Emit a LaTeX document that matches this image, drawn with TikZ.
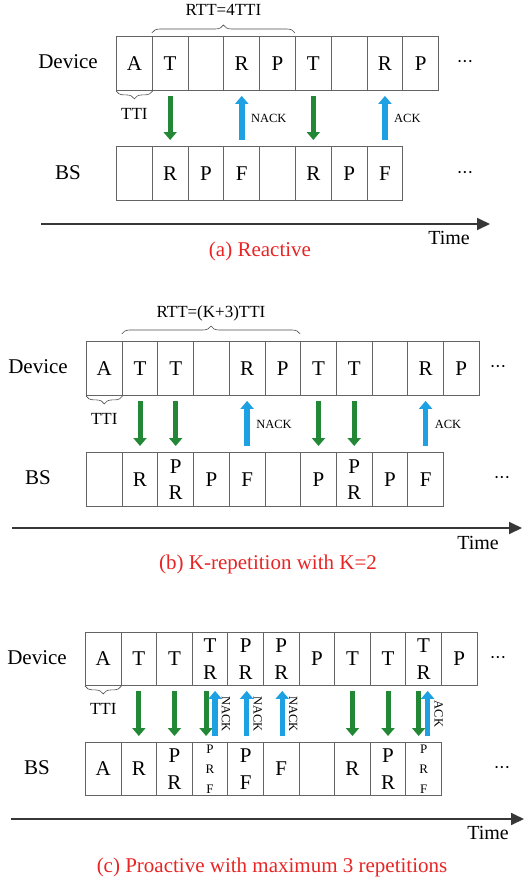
\documentclass[tikz,border=0pt]{standalone}
\usepackage{fontspec}
\setmainfont{Liberation Serif}
\usetikzlibrary{arrows.meta,decorations.pathreplacing}

\definecolor{dngreen}{RGB}{34,136,54}
\definecolor{upblue}{RGB}{29,161,226}
\definecolor{capred}{RGB}{232,36,36}
\definecolor{cellgray}{RGB}{100,100,100}
\definecolor{axgray}{RGB}{55,55,55}

\newcommand{\none}{}
\newcommand{\moredots}{•\kern2.2pt•\kern2.2pt•}
\newcommand{\duo}[2]{\vbox{\halign{\hfil##\hfil\cr #1\cr #2\cr}}}
\newcommand{\trio}[3]{\vbox{\fontsize{13}{20}\selectfont\halign{\hfil##\hfil\cr #1\cr #2\cr #3\cr}}}

\tikzset{
  cell/.style = {draw = cellgray, line width = 0.9pt, minimum width = #1, minimum height = 54pt, inner sep = 0pt, anchor = north west, font = \fontsize{21}{26.5}\selectfont},
  rowlbl/.style = {font = \fontsize{21}{25}\selectfont},
  dotsnode/.style = {font = \fontsize{9}{10}\selectfont, inner sep = 0pt},
  dnarr/.style = {draw = dngreen, line width = 5pt, -{Triangle[width = 13pt, length = 8pt]}, shorten <= 5pt, shorten >= 6pt},
  uparr/.style = {draw = upblue, line width = 5.5pt, -{Triangle[width = 13pt, length = 8pt]}, shorten <= 6pt, shorten >= 5pt},
  acktxt/.style = {font = \fontsize{12.5}{15}\selectfont, inner sep = 0pt},
  ackrot/.style = {font = \fontsize{12.5}{15}\selectfont, inner sep = 4pt, anchor = south, rotate = -90},
  brc/.style = {decorate, decoration = {brace, amplitude = 8pt, raise = #1}, draw = black!70, line width = 0.6pt},
  bracetxt/.style = {font = \fontsize{17}{20}\selectfont, inner sep = 0pt, anchor = base},
  timeax/.style = {draw = axgray, line width = 1.8pt, -{Triangle[width = 12pt, length = 13pt]}},
  timetxt/.style = {font = \fontsize{20}{24}\selectfont},
  captxt/.style = {font = \fontsize{21}{25}\selectfont, text = capred}
}

\begin{document}
\begin{tikzpicture}[x = 1pt, y = -1pt]
\useasboundingbox (0,0) rectangle (524,881);

% (a) reactive
\node[rowlbl] (deva) at (68,62) {Device};
\node[rowlbl] (bsa) at (68,173) {BS};
\foreach \t [count = \i] in {A,T,\none,R,P,T,\none,R,P}
  \node[cell = 35.8pt] (da\i) at ({116+(\i-1)*35.8}, 36) {\t};
\foreach \t [count = \i] in {\none,R,P,F,\none,R,P,F}
  \node[cell = 35.8pt] (ba\i) at ({116+(\i-1)*35.8}, 146) {\t};
\node[dotsnode] (mda) at (465,62) {\moredots};
\node[dotsnode] (mba) at (465,173) {\moredots};
\draw[brc = 3pt] (da2.north west) -- (da6.north west) node[bracetxt, midway, yshift = 20.5pt] (rtta) {RTT=4TTI};
\draw[brc = 0pt] (da1.south east) -- (da1.south west) node[bracetxt, midway, yshift = -28.5pt] (ttia) {TTI};
\draw[dnarr] (da2.south) -- (ba2.north);
\draw[uparr] (ba4.north) -- (da4.south) node[acktxt, midway, right = 6.5pt] (nacka) {NACK};
\draw[dnarr] (da6.south) -- (ba6.north);
\draw[uparr] (ba8.north) -- (da8.south) node[acktxt, midway, right = 6.5pt] (acka) {ACK};
\coordinate (ta0) at (41,224);
\coordinate (ta1) at (490,224);
\draw[timeax] (ta0) -- (ta1);
\node[timetxt] (timea) at (449,238) {Time};
\node[captxt] (capa) at (260,251) {(a) Reactive};

% (b) K-repetition
\node[rowlbl] (devb) at (38,367) {Device};
\node[rowlbl] (bsb) at (38,478) {BS};
\foreach \t [count = \i] in {A,T,T,\none,R,P,T,T,\none,R,P}
  \node[cell = 35.7pt] (db\i) at ({86+(\i-1)*35.7}, 341) {\t};
\foreach \t [count = \i] in {\none,R,\duo{P}{R},P,F,\none,P,\duo{P}{R},P,F}
  \node[cell = 35.7pt] (bb\i) at ({86+(\i-1)*35.7}, 452) {\t};
\node[dotsnode] (mdb) at (498,367) {\moredots};
\node[dotsnode] (mbb) at (502,478) {\moredots};
\draw[brc = 7pt] (db2.north west) -- (db7.north west) node[bracetxt, midway, yshift = 23.5pt] (rttb) {RTT=(K+3)TTI};
\draw[brc = 0pt] (db1.south east) -- (db1.south west) node[bracetxt, midway, yshift = -28.5pt] (ttib) {TTI};
\foreach \i in {2,3,7,8}
  \draw[dnarr] (db\i.south) -- (bb\i.north);
\draw[uparr] (bb5.north) -- (db5.south) node[acktxt, midway, right = 6.5pt] (nackb) {NACK};
\draw[uparr] (bb10.north) -- (db10.south) node[acktxt, midway, right = 6.5pt] (ackb) {ACK};
\coordinate (tb0) at (12,528);
\coordinate (tb1) at (522,528);
\draw[timeax] (tb0) -- (tb1);
\node[timetxt] (timeb) at (478,543) {Time};
\node[captxt] (capb) at (268,564) {(b) K-repetition with K=2};

% (c) proactive
\node[rowlbl] (devc) at (37,658) {Device};
\node[rowlbl] (bsc) at (37,768) {BS};
\foreach \t [count = \i] in {A,T,T,\duo{T}{R},\duo{P}{R},\duo{P}{R},P,T,T,\duo{T}{R},P}
  \node[cell = 35.6pt, minimum height = 53pt] (dc\i) at ({85+(\i-1)*35.6}, 632) {\t};
\foreach \t [count = \i] in {A,R,\duo{P}{R},\trio{P}{R}{F},\duo{P}{F},F,\none,R,\duo{P}{R},\trio{P}{R}{F}}
  \node[cell = 35.6pt, minimum height = 53pt] (bc\i) at ({85+(\i-1)*35.6}, 742) {\t};
\node[dotsnode] (mdc) at (498,658) {\moredots};
\node[dotsnode] (mbc) at (502,768) {\moredots};
\draw[brc = 0pt] (dc1.south east) -- (dc1.south west) node[bracetxt, midway, yshift = -28.5pt] (ttic) {TTI};
\foreach \i in {2,3,8,9}
  \draw[dnarr] (dc\i.south) -- (bc\i.north);
\draw[dnarr] ([xshift = -4pt]dc4.south) -- ([xshift = -4pt]bc4.north);
\draw[dnarr] ([xshift = -5pt]dc10.south) -- ([xshift = -5pt]bc10.north);
\draw[uparr] ([xshift = 5pt]bc4.north) -- ([xshift = 5pt]dc4.south) node[ackrot, midway] (nackc1) {NACK};
\draw[uparr] ([xshift = 1pt]bc5.north) -- ([xshift = 1pt]dc5.south) node[ackrot, midway] (nackc2) {NACK};
\draw[uparr] ([xshift = 1pt]bc6.north) -- ([xshift = 1pt]dc6.south) node[ackrot, midway] (nackc3) {NACK};
\draw[uparr] ([xshift = 4pt]bc10.north) -- ([xshift = 4pt]dc10.south) node[ackrot, midway] (ackc) {ACK};
\coordinate (tc0) at (11,819);
\coordinate (tc1) at (524,819);
\draw[timeax] (tc0) -- (tc1);
\node[timetxt] (timec) at (488,833) {Time};
\node[captxt] (capc) at (272,867) {(c) Proactive with maximum 3 repetitions};
\end{tikzpicture}
\end{document}
